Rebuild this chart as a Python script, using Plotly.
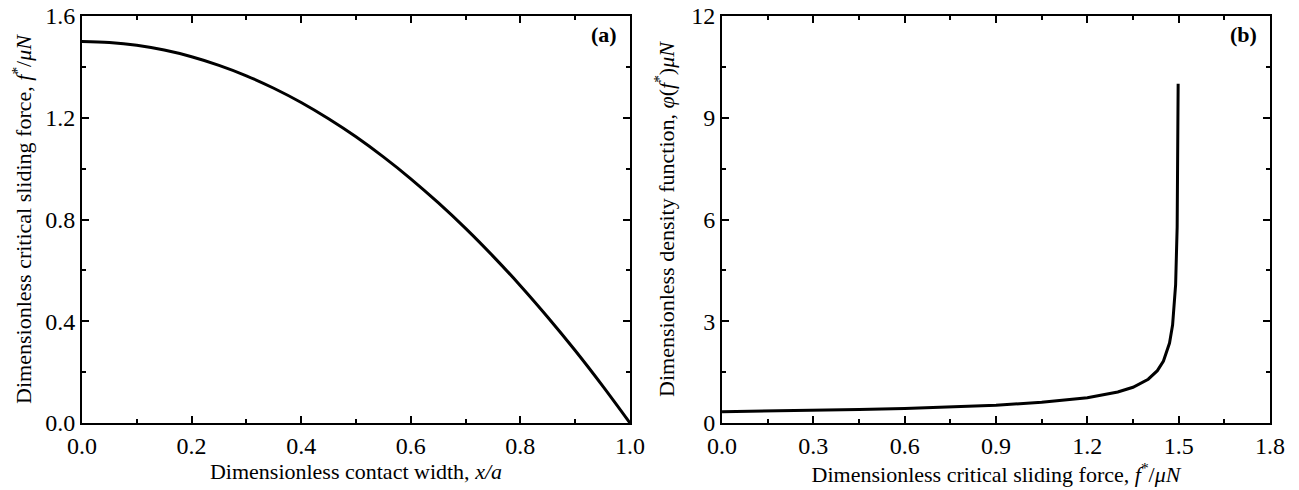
import plotly.graph_objects as go
from plotly.subplots import make_subplots

# panel (a): critical sliding force vs contact width
contact_width = [0.0, 0.05, 0.1, 0.15, 0.2, 0.25, 0.3, 0.35, 0.4, 0.45, 0.5,
                 0.55, 0.6, 0.65, 0.7, 0.75, 0.8, 0.85, 0.9, 0.95, 1.0]
sliding_force = [1.5, 1.496, 1.485, 1.466, 1.44, 1.406, 1.365, 1.316, 1.26, 1.196, 1.125,
                 1.046, 0.96, 0.866, 0.765, 0.656, 0.54, 0.416, 0.285, 0.146, 0.0]

# panel (b): density function vs critical sliding force
force_b = [0.0, 0.15, 0.3, 0.45, 0.6, 0.75, 0.9, 1.05, 1.2, 1.3, 1.35, 1.4,
           1.43, 1.45, 1.47, 1.48, 1.49, 1.495, 1.497, 1.4983]
density = [0.333, 0.351, 0.373, 0.398, 0.43, 0.471, 0.527, 0.609, 0.745, 0.913, 1.054, 1.291,
           1.543, 1.826, 2.357, 2.887, 4.082, 5.774, 7.454, 10.0]

FONT = "Liberation Serif, Times New Roman, serif"
TICK_SIZE = 24
TITLE_SIZE = 22
fstar = "<i>f</i><sup>*</sup>/<i>μN</i>"

# page body adds an 8px margin, so the figure is 8px smaller than the window
fig = make_subplots(rows=1, cols=2, horizontal_spacing=0.0775)

fig.add_trace(go.Scatter(x=contact_width, y=sliding_force, mode="lines",
                         line=dict(color="black", width=3, shape="spline"),
                         showlegend=False), row=1, col=1)
fig.add_trace(go.Scatter(x=force_b, y=density, mode="lines",
                         line=dict(color="black", width=3),
                         showlegend=False), row=1, col=2)


def axis_style(dtick, minor):
    return dict(
        showline=True, linecolor="black", linewidth=2, mirror="ticks",
        ticks="inside", ticklen=7, tickwidth=1.5, tickcolor="black",
        minor=dict(dtick=minor, ticks="inside", ticklen=4, tickwidth=1.5, tickcolor="black"),
        dtick=dtick, tick0=0, showgrid=False, zeroline=False, automargin=False,
        ticklabeloverflow="allow",
        tickfont=dict(family=FONT, size=TICK_SIZE, color="black"),
    )


def title(text, standoff):
    return dict(text=text, font=dict(family=FONT, size=TITLE_SIZE, color="black"),
                standoff=standoff)


fig.update_xaxes(**axis_style(0.2, 0.1), range=[0, 1.0], tickformat=".1f",
                 title=title("Dimensionless contact width, <i>x/a</i>", 2),
                 row=1, col=1)
fig.update_yaxes(**axis_style(0.4, 0.2), range=[0, 1.6], tickformat=".1f",
                 title=title("Dimensionless critical sliding force, " + fstar, 12),
                 row=1, col=1)
fig.update_xaxes(**axis_style(0.3, 0.15), range=[0, 1.8], tickformat=".1f",
                 title=title("Dimensionless critical sliding force, " + fstar, 2),
                 row=1, col=2)
fig.update_yaxes(**axis_style(3, 1.5), range=[0, 12],
                 title=title("Dimensionless density function, <i>φ</i>(<i>f</i><sup>*</sup>)<i>μN</i>", 11),
                 row=1, col=2)

fig.add_annotation(text="<b>(a)</b>", xref="x domain", yref="y domain", x=0.98, y=0.99,
                   xanchor="right", yanchor="top", showarrow=False,
                   font=dict(family=FONT, size=22, color="black"))
fig.add_annotation(text="<b>(b)</b>", xref="x2 domain", yref="y2 domain", x=0.98, y=0.99,
                   xanchor="right", yanchor="top", showarrow=False,
                   font=dict(family=FONT, size=22, color="black"))

fig.update_layout(
    width=1291, height=482,
    margin=dict(l=74, r=29, t=8, b=67),
    plot_bgcolor="white", paper_bgcolor="white",
    font=dict(family=FONT, color="black"),
)

fig.write_html("out.html")
